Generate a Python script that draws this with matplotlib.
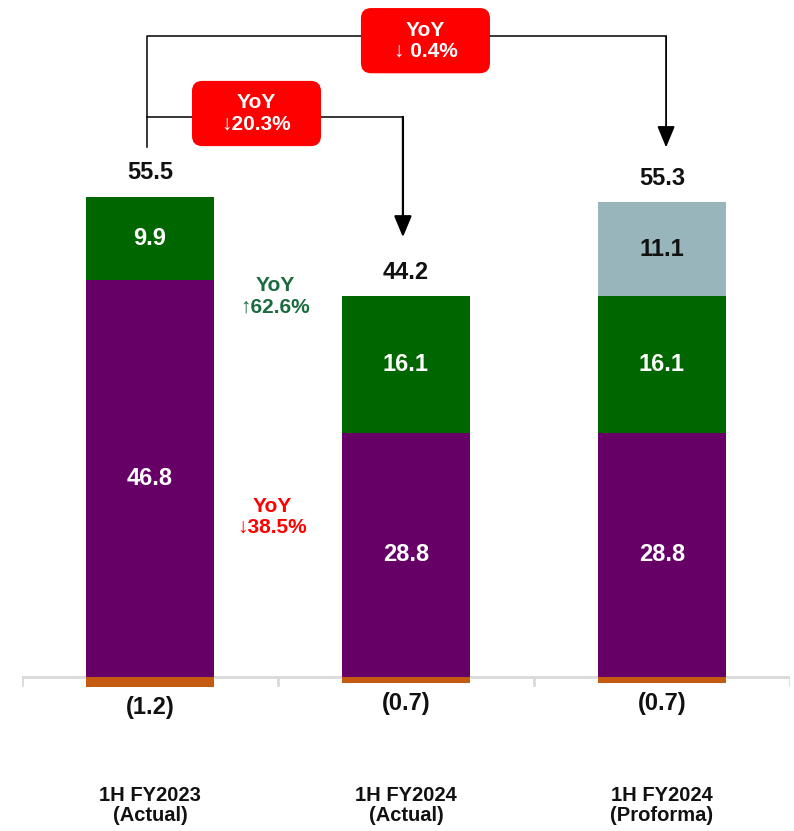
import matplotlib.pyplot as plt
from matplotlib.patches import FancyBboxPatch

plt.rcParams['font.family'] = ['Liberation Sans', 'DejaVu Sans']
plt.rcParams['font.weight'] = 'bold'

categories = ['1H FY2023\n(Actual)', '1H FY2024\n(Actual)', '1H FY2024\n(Proforma)']
purple_vals = [46.8, 28.8, 28.8]
green_vals = [9.9, 16.1, 16.1]
grey_vals = [0.0, 0.0, 11.1]
neg_vals = [-1.2, -0.7, -0.7]
totals = [55.5, 44.2, 55.3]

PURPLE = '#660066'
GREEN = '#006600'
GREY = '#97b5ba'
ORANGE = '#c55a11'

fig = plt.figure(figsize=(7.94, 8.31), dpi=100)
ax = fig.add_axes([22 / 794, 0, 768 / 794, 1])
ax.set_xlim(-0.5, 2.5)
ax.set_ylim(-18.2, 79.9)
ax.axis('off')

x = list(range(len(categories)))
w = 0.5

# baseline with separators between groups
ax.plot([-0.5, 2.5], [0, 0], color='#d9d9d9', lw=2, zorder=1, solid_capstyle='butt')
for b in [-0.5, 0.5, 1.5, 2.5]:
    ax.plot([b, b], [0, -0.95], color='#d9d9d9', lw=2, zorder=1)

ax.bar(x, purple_vals, w, color=PURPLE, zorder=2)
ax.bar(x, green_vals, w, bottom=purple_vals, color=GREEN, zorder=2)
mid = [p + g for p, g in zip(purple_vals, green_vals)]
ax.bar(x, grey_vals, w, bottom=mid, color=GREY, zorder=2)
ax.bar(x, neg_vals, w, color=ORANGE, zorder=2)
stack_top = [m + g for m, g in zip(mid, grey_vals)]

lab = dict(ha='center', va='center', fontsize=17, fontweight='bold')
for i in x:
    ax.text(i, purple_vals[i] / 2, f'{purple_vals[i]:.1f}', color='white', **lab)
    ax.text(i, purple_vals[i] + green_vals[i] / 2, f'{green_vals[i]:.1f}', color='white', **lab)
    if grey_vals[i] > 0:
        ax.text(i, mid[i] + grey_vals[i] / 2, f'{grey_vals[i]:.1f}', color='#111111', **lab)
    ax.annotate(f'{totals[i]:.1f}', (i, stack_top[i]), xytext=(0, 24),
                textcoords='offset pixels', color='#111111', **lab)
    ax.annotate(f'({abs(neg_vals[i]):.1f})', (i, neg_vals[i]), xytext=(0, -21),
                textcoords='offset pixels', color='#111111', **lab)
    ax.text(i, -15.2, categories[i], ha='center', va='center', fontsize=14.5,
            fontweight='bold', color='#111111', linespacing=1.1)

# segment growth notes
ax.text(0.488, 44.9, 'YoY\n\u219162.6%', ha='center', va='center', fontsize=15,
        fontweight='bold', color='#1b6b3e', linespacing=1.15)
ax.text(0.477, 18.9, 'YoY\n\u219338.5%', ha='center', va='center', fontsize=15,
        fontweight='bold', color='#ff0000', linespacing=1.15)

# brackets linking the totals
ax.plot([-0.012, -0.012, 2.016], [62.5, 75.6, 75.6], color='black', lw=1.1, zorder=3)
ax.plot([-0.012, 0.988], [66.1, 66.1], color='black', lw=1.1, zorder=3)
arrow = dict(arrowstyle='-|>,head_length=0.65,head_width=0.27', color='black',
             mutation_scale=20, shrinkA=0, shrinkB=0)
ax.annotate('', xy=(0.988, 51.9), xytext=(0.988, 66.1),
            arrowprops=dict(lw=1.6, **arrow), zorder=3)
ax.annotate('', xy=(2.016, 62.5), xytext=(2.016, 75.6),
            arrowprops=dict(lw=1.3, **arrow), zorder=3)

boxes = [(1.076, 75.1, 'YoY\n\u2193 0.4%'), (0.416, 66.5, 'YoY\n\u219320.3%')]
bw, bh = 0.504, 7.7
for cx, cy, txt in boxes:
    patch = FancyBboxPatch((cx - bw / 2, cy - bh / 2), bw, bh,
                           boxstyle='round,pad=0,rounding_size=0.04',
                           mutation_aspect=30.2, fc='#ff0000', ec='none', zorder=4)
    ax.add_patch(patch)
    ax.text(cx, cy, txt, ha='center', va='center', fontsize=15, fontweight='bold',
            color='white', linespacing=1.15, zorder=5)

fig.savefig('out.png', dpi=100)
